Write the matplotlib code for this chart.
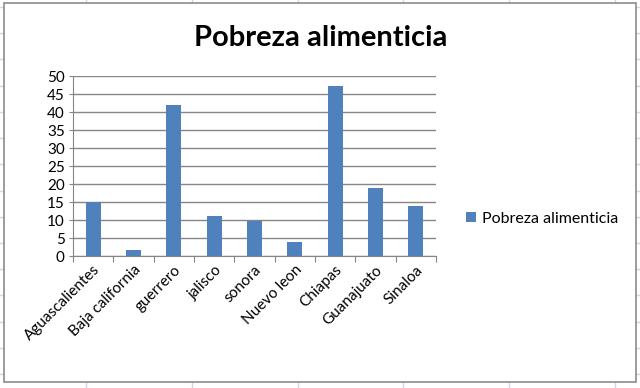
import matplotlib
matplotlib.use("Agg")
import matplotlib.pyplot as plt
from matplotlib.patches import Rectangle
from matplotlib.lines import Line2D

plt.rcParams["font.family"] = ["Lato", "DejaVu Sans"]

estados = ["Aguascalientes", "Baja california", "guerrero", "jalisco", "sonora",
           "Nuevo leon", "Chiapas", "Guanajuato", "Sinaloa"]
pobreza = [15.0, 1.6, 42.0, 11.2, 9.8, 3.8, 47.1, 18.8, 13.8]
serie = "Pobreza alimenticia"

W, H = 640, 388
fig = plt.figure(figsize=(6.4, 3.88), dpi=100)

# spreadsheet cell lines behind the chart
for cx in [86, 192, 298, 403, 509, 615]:
    fig.lines.append(Line2D([cx / W, cx / W], [0, 1], transform=fig.transFigure,
                            color="#d0d7e5", linewidth=1, zorder=-2))
for ry in [7, 33, 59, 86, 112, 138, 164, 191, 217, 243, 269, 295, 322, 348, 374]:
    fig.lines.append(Line2D([0, 1], [1 - ry / H, 1 - ry / H], transform=fig.transFigure,
                            color="#d0d7e5", linewidth=1, zorder=-2))

# chart frame
fig.patches.append(Rectangle((4 / W, 1 - 382 / H), 632 / W, 379 / H,
                             transform=fig.transFigure, facecolor="white",
                             edgecolor="#8c8c8c", linewidth=1.2, zorder=-1))

ax = fig.add_axes([73 / W, 1 - 256 / H, 363 / W, 180 / H])
ax.set_zorder(1)
x = range(len(estados))
ax.bar(x, pobreza, width=0.37, color="#4f81bd", label=serie, zorder=3)

ax.set_xlim(-0.5, len(estados) - 0.5)
ax.set_ylim(0, 50)
ax.set_yticks(range(0, 51, 5))
ax.yaxis.grid(True, color="#868686", linewidth=1)
ax.set_axisbelow(True)
for s in ["top", "right"]:
    ax.spines[s].set_visible(False)
for s in ["left", "bottom"]:
    ax.spines[s].set_color("#868686")

ax.set_xticks([i - 0.5 for i in range(len(estados) + 1)], minor=False)
ax.set_xticklabels([])
ax.set_xticks(list(x), minor=True)
ax.set_xticklabels(estados, minor=True, rotation=45, ha="right",
                   rotation_mode="anchor", fontsize=11)
ax.tick_params(axis="x", which="minor", length=0, pad=5)
ax.tick_params(axis="x", which="major", length=4, color="#868686")
ax.tick_params(axis="y", length=3, color="#868686", labelsize=11, pad=3)

fig.text(321 / W, 1 - 38 / H, serie, ha="center", va="center",
         fontsize=21, fontweight="bold")

ax.legend(loc="center left", bbox_to_anchor=(452 / W, 1 - 219 / H),
          bbox_transform=fig.transFigure, frameon=False, fontsize=11.5,
          handlelength=0.6, handleheight=0.6, handletextpad=0.4)

fig.savefig("out.png", dpi=100, facecolor="white")
